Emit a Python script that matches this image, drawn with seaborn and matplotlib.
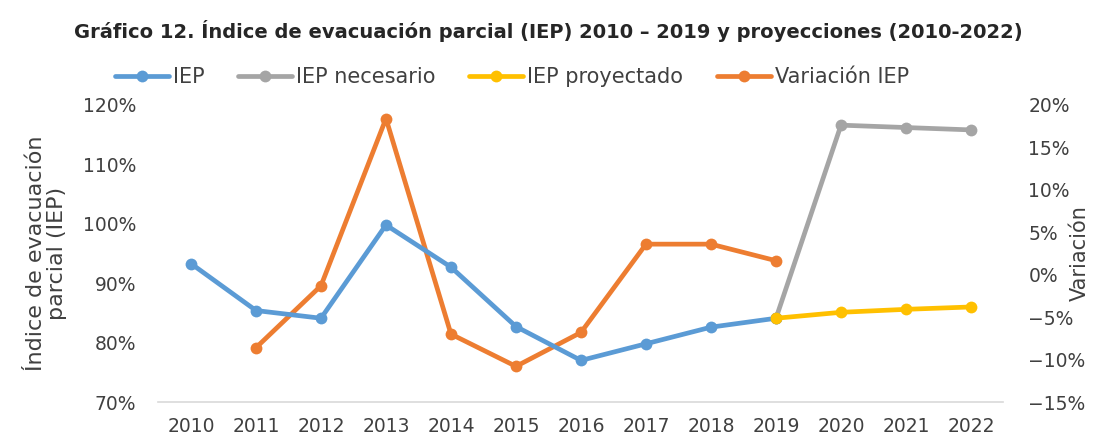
import numpy as np
import pandas as pd
from matplotlib import pyplot as plt
from matplotlib.ticker import PercentFormatter
import seaborn as sns

years = list(range(2010, 2023))

# IEP (%), 2010-2019
iep = [93.3, 85.4, 84.1, 99.8, 92.7, 82.7, 77.0, 79.8, 82.6, 84.1]
# IEP necesario (%), 2019-2022
iep_nec = [84.1, 116.6, 116.2, 115.8]
# IEP proyectado (%), 2019-2022
iep_proy = [84.1, 85.1, 85.6, 86.0]
# Variacion IEP (%), 2011-2019
variacion = [-8.6, -1.3, 18.4, -7.0, -10.8, -6.8, 3.6, 3.6, 1.65]

c_iep = '#5B9BD5'
c_nec = '#A5A5A5'
c_proy = '#FFC000'
c_var = '#ED7D31'

sns.set_style('white')
plt.rcParams['font.family'] = ['DejaVu Sans']

df_iep = pd.DataFrame({'year': years[:10], 'v': iep})
df_nec = pd.DataFrame({'year': years[9:], 'v': iep_nec})
df_proy = pd.DataFrame({'year': years[9:], 'v': iep_proy})
df_var = pd.DataFrame({'year': years[1:10], 'v': variacion})

fig = plt.figure(figsize=(10.96, 4.41), dpi=100)
ax = fig.add_axes([0.1446, 0.0884, 0.771, 0.6736])
ax2 = ax.twinx()

kw = dict(marker='o', markersize=8.5, linewidth=3.4, markeredgewidth=0)
sns.lineplot(data=df_var, x='year', y='v', ax=ax2, color=c_var, label='Variación IEP', legend=False, **kw)
sns.lineplot(data=df_nec, x='year', y='v', ax=ax, color=c_nec, label='IEP necesario', legend=False, **kw)
sns.lineplot(data=df_iep, x='year', y='v', ax=ax, color=c_iep, label='IEP', legend=False, **kw)
sns.lineplot(data=df_proy, x='year', y='v', ax=ax, color=c_proy, label='IEP proyectado', legend=False, **kw)

# draw left axis lines above the orange line
ax.set_zorder(ax2.get_zorder() + 1)
ax.patch.set_visible(False)

ax.set_xlim(2009.5, 2022.5)
ax.set_ylim(70, 120)
ax2.set_ylim(-15, 20)
ax.set_xticks(years)
ax.set_yticks(np.arange(70, 121, 10))
ax2.set_yticks(np.arange(-15, 21, 5))
ax.yaxis.set_major_formatter(PercentFormatter(decimals=0))
ax2.yaxis.set_major_formatter(PercentFormatter(decimals=0))

for a in (ax, ax2):
    for s in a.spines.values():
        s.set_visible(False)
    a.tick_params(length=0, labelsize=13.5, colors='#404040')
ax.spines['bottom'].set_visible(True)
ax.spines['bottom'].set_color('#d9d9d9')
ax.spines['bottom'].set_linewidth(1.2)
ax.tick_params(axis='x', pad=11)
ax.tick_params(axis='y', pad=16)
ax2.tick_params(axis='y', pad=18)

ax.set_xlabel('')
ax.set_ylabel('Índice de evacuación\nparcial (IEP)', fontsize=16, color='#404040', linespacing=1.05)
ax.yaxis.set_label_coords(-0.108, 0.5)
ax2.set_ylabel('Variación', fontsize=15, color='#404040', rotation=90)
ax2.yaxis.set_label_coords(1.078, 0.5)

h1, l1 = ax.get_legend_handles_labels()
h2, l2 = ax2.get_legend_handles_labels()
handles = dict(zip(l1 + l2, h1 + h2))
order = ['IEP', 'IEP necesario', 'IEP proyectado', 'Variación IEP']
fig.legend([handles[k] for k in order], order, loc='center', bbox_to_anchor=(0.467, 0.825),
           ncol=4, frameon=False, fontsize=15, handlelength=2.6, handletextpad=0.2,
           columnspacing=1.6, labelcolor='#404040')

fig.text(0.5, 0.93, 'Gráfico 12. Índice de evacuación parcial (IEP) 2010 – 2019 y proyecciones (2010-2022)',
         ha='center', va='center', fontsize=14, fontweight='bold', color='#262626')

fig.savefig('out.png', dpi=100)
